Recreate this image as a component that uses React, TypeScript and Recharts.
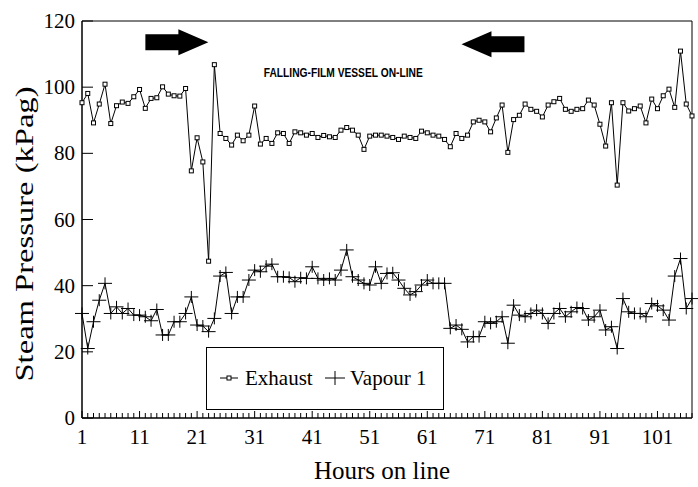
import React from 'react';
import { LineChart, Line, XAxis, YAxis, ReferenceArea, ReferenceDot } from 'recharts';

// hours on line
const hours = Array.from({ length: 107 }, (_, i) => i + 1);
const xLabels = [1, 11, 21, 31, 41, 51, 61, 71, 81, 91, 101];
const yTicks = [0, 20, 40, 60, 80, 100, 120];

const exhaust = [
  95.3, 98.1, 89.2, 94.9, 100.9, 89.0, 94.4, 95.5, 95.1, 97.1,
  99.3, 93.6, 96.6, 96.8, 100.1, 97.9, 97.4, 97.3, 99.6, 74.7,
  84.7, 77.4, 47.4, 106.8, 86.0, 84.5, 82.5, 85.5, 83.8, 85.5,
  94.3, 82.8, 84.5, 83.0, 86.2, 86.0, 83.0, 86.5, 86.2, 85.5,
  86.0, 84.8, 85.4, 85.0, 84.8, 87.0, 87.8, 87.0, 85.5, 81.2,
  85.2, 85.5, 85.5, 85.2, 84.8, 84.2, 85.2, 84.8, 84.5, 86.7,
  86.2, 85.5, 85.2, 84.2, 82.0, 86.0, 84.5, 85.5, 89.5, 90.0,
  89.5, 86.5, 90.7, 94.6, 80.3, 90.2, 91.5, 94.9, 93.3, 92.7,
  91.0, 94.6, 95.6, 96.6, 93.3, 92.7, 93.3, 93.5, 96.1, 94.6,
  88.8, 82.2, 95.3, 70.4, 95.3, 92.8, 93.5, 94.3, 89.2, 96.4,
  93.5, 97.4, 99.4, 93.9, 110.9, 94.9, 91.3,
];

const vapour1 = [
  31.6, 21.0, 29.1, 35.6, 40.7, 31.6, 33.6, 31.6, 33.1, 31.1,
  31.1, 30.6, 29.4, 32.8, 25.1, 25.1, 29.1, 29.1, 31.6, 36.6,
  28.1, 27.8, 26.1, 30.1, 42.9, 44.0, 31.6, 36.6, 36.6, 41.7,
  44.7, 44.2, 45.9, 46.5, 42.7, 42.7, 42.5, 41.2, 42.4, 42.2,
  45.7, 42.2, 41.7, 42.2, 41.7, 44.7, 50.8, 42.7, 41.7, 40.7,
  40.2, 45.7, 40.7, 43.7, 43.9, 41.7, 39.2, 37.2, 38.2, 40.2,
  41.7, 40.7, 40.7, 40.7, 27.1, 28.1, 26.8, 23.0, 24.6, 24.6,
  29.1, 28.6, 29.1, 30.6, 22.6, 34.1, 31.1, 30.6, 31.6, 32.6,
  31.6, 28.6, 31.6, 33.1, 30.6, 32.1, 33.4, 33.1, 29.6, 30.6,
  32.6, 26.6, 27.6, 21.0, 36.1, 32.1, 31.6, 31.6, 30.6, 34.6,
  33.9, 32.6, 29.6, 42.9, 48.2, 33.1, 36.1,
];

const data = hours.map((h, i) => ({ hour: h, exhaust: exhaust[i], vapour: vapour1[i] }));

const serif = '"Liberation Serif", "DejaVu Serif", serif';

function XTick(props: any) {
  const { x, y, payload } = props;
  const major = xLabels.includes(payload.value);
  return (
    <g>
      <line x1={x} y1={y} x2={x} y2={y - (major ? 7 : 5)} stroke="#000" strokeWidth={1} />
      {major && (
        <text x={x} y={y + 26} textAnchor="middle" fontFamily={serif} fontSize={21} fill="#000">
          {payload.value}
        </text>
      )}
    </g>
  );
}

function YTick(props: any) {
  const { x, y, payload } = props;
  return (
    <g>
      <line x1={x} y1={y} x2={x + 11} y2={y} stroke="#000" strokeWidth={1} />
      <text x={x - 7} y={y + 7} textAnchor="end" fontFamily={serif} fontSize={21} fill="#000">
        {payload.value}
      </text>
    </g>
  );
}

function SquareDot(props: any) {
  const { cx, cy } = props;
  if (cx == null || cy == null) return null;
  return <rect x={cx - 2} y={cy - 2} width={4} height={4} fill="#fff" stroke="#000" strokeWidth={1} />;
}

function PlusDot(props: any) {
  const { cx, cy } = props;
  if (cx == null || cy == null) return null;
  return (
    <g stroke="#000" strokeWidth={1}>
      <line x1={cx - 7} y1={cy} x2={cx + 7} y2={cy} />
      <line x1={cx} y1={cy - 6} x2={cx} y2={cy + 6} />
    </g>
  );
}

// block arrows above the plot, dir 1 = right, -1 = left
function arrowShape(dir: number) {
  return (props: any) => {
    const { cx, cy } = props;
    const pts = [[-31, -8], [2, -8], [2, -13], [32, 0], [2, 13], [2, 8], [-31, 8]];
    return (
      <polygon
        points={pts.map(([dx, dy]) => `${cx + dx * dir},${cy + dy}`).join(' ')}
        fill="#000"
      />
    );
  };
}

function NoteText(props: any) {
  const { cx, cy } = props;
  return (
    <text
      x={cx}
      y={cy + 4}
      textAnchor="middle"
      fontFamily='"Liberation Sans", Arial, sans-serif'
      fontWeight="bold"
      fontSize={12}
      textLength={159}
      lengthAdjust="spacingAndGlyphs"
      fill="#000"
    >
      FALLING-FILM VESSEL ON-LINE
    </text>
  );
}

function XTitle(props: any) {
  const vb = props.viewBox || { x: 82, width: 610 };
  return (
    <text x={vb.x + vb.width / 2 - 5} y={479} textAnchor="middle" fontFamily={serif} fontSize={25} fill="#000">
      Hours on line
    </text>
  );
}

function YTitle() {
  return (
    <text
      x={33}
      y={234}
      transform="rotate(-90 33 234)"
      textAnchor="middle"
      fontFamily={serif}
      fontSize={25}
      textLength={295}
      lengthAdjust="spacingAndGlyphs"
      fill="#000"
    >
      Steam Pressure (kPag)
    </text>
  );
}

function LegendBox() {
  return (
    <svg
      width={238}
      height={63}
      style={{ position: 'absolute', left: 206, top: 347 }}
    >
      <rect x={0.5} y={0.5} width={237} height={62} fill="#fff" stroke="#000" strokeWidth={1} />
      <line x1={14} y1={31} x2={32} y2={31} stroke="#000" />
      <rect x={21} y={29} width={4} height={4} fill="#fff" stroke="#000" />
      <text x={39} y={38} fontFamily={serif} fontSize={21} fill="#000">Exhaust</text>
      <line x1={119} y1={31} x2={139} y2={31} stroke="#000" />
      <line x1={129} y1={24} x2={129} y2={38} stroke="#000" />
      <text x={144} y={38} fontFamily={serif} fontSize={21} fill="#000">Vapour 1</text>
    </svg>
  );
}

export default function App() {
  return (
    <div style={{ position: 'absolute', left: 0, top: 0, width: 698, height: 487, background: '#fff' }}>
      <LineChart width={698} height={487} data={data} margin={{ top: 21, right: 6, bottom: 0, left: 0 }}>
        <XAxis
          dataKey="hour"
          type="number"
          domain={[1, 107]}
          ticks={hours}
          interval={0}
          tick={(p: any) => <XTick {...p} />}
          tickLine={false}
          tickSize={0}
          tickMargin={0}
          height={69}
          axisLine={{ stroke: '#000' }}
          label={<XTitle />}
        />
        <YAxis
          type="number"
          domain={[0, 120]}
          ticks={yTicks}
          interval={0}
          tick={(p: any) => <YTick {...p} />}
          tickLine={false}
          tickSize={0}
          tickMargin={0}
          width={82}
          axisLine={{ stroke: '#000' }}
          label={<YTitle />}
        />
        <ReferenceArea x1={1} x2={107} y1={0} y2={120} fill="none" fillOpacity={0} stroke="#000" strokeWidth={1} />
        <ReferenceDot x={17.4} y={113.6} r={0} shape={arrowShape(1)} />
        <ReferenceDot x={72.5} y={113} r={0} shape={arrowShape(-1)} />
        <ReferenceDot x={46.4} y={104.2} r={0} shape={(p: any) => <NoteText {...p} />} />
        <Line
          dataKey="vapour"
          name="Vapour 1"
          stroke="#000"
          strokeWidth={1}
          dot={(p: any) => <PlusDot key={`v${p.index}`} {...p} />}
          activeDot={false}
          isAnimationActive={false}
        />
        <Line
          dataKey="exhaust"
          name="Exhaust"
          stroke="#000"
          strokeWidth={1}
          dot={(p: any) => <SquareDot key={`e${p.index}`} {...p} />}
          activeDot={false}
          isAnimationActive={false}
        />
      </LineChart>
      <LegendBox />
    </div>
  );
}
